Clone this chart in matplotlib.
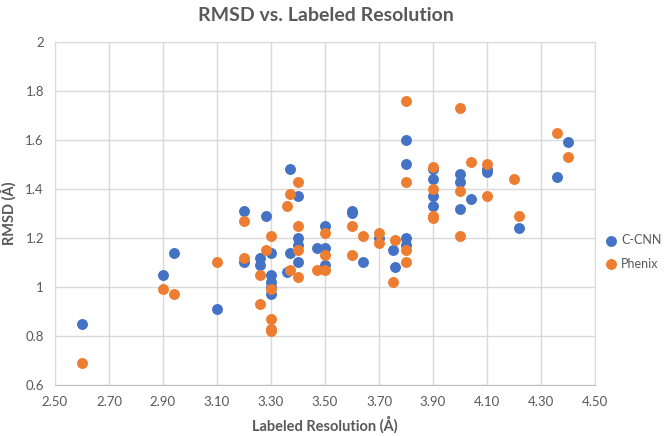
import matplotlib.pyplot as plt

# C-CNN values
cnn_res = [2.60, 2.90, 2.94, 3.10, 3.20, 3.20, 3.26, 3.26, 3.28, 3.30,
           3.30, 3.30, 3.30, 3.30, 3.36, 3.37, 3.37, 3.40, 3.40, 3.40,
           3.40, 3.47, 3.50, 3.50, 3.50, 3.60, 3.60, 3.64, 3.70, 3.75,
           3.76, 3.80, 3.80, 3.80, 3.80, 3.90, 3.90, 3.90, 3.90, 4.00,
           4.00, 4.00, 4.04, 4.10, 4.10, 4.22, 4.36, 4.40]
cnn_rmsd = [0.85, 1.05, 1.14, 0.91, 1.31, 1.10, 1.12, 1.09, 1.29, 1.14,
            1.05, 1.02, 1.00, 0.97, 1.06, 1.48, 1.14, 1.37, 1.20, 1.17,
            1.10, 1.16, 1.25, 1.16, 1.09, 1.31, 1.30, 1.10, 1.20, 1.15,
            1.08, 1.60, 1.50, 1.20, 1.17, 1.48, 1.44, 1.37, 1.33, 1.46,
            1.43, 1.32, 1.36, 1.48, 1.47, 1.24, 1.45, 1.59]

# Phenix values
phx_res = [2.60, 2.90, 2.94, 3.10, 3.20, 3.20, 3.26, 3.26, 3.28, 3.30,
           3.30, 3.30, 3.30, 3.30, 3.36, 3.37, 3.37, 3.40, 3.40, 3.40,
           3.40, 3.47, 3.50, 3.50, 3.50, 3.60, 3.60, 3.64, 3.70, 3.70,
           3.75, 3.76, 3.80, 3.80, 3.80, 3.80, 3.90, 3.90, 3.90, 3.90,
           4.00, 4.00, 4.00, 4.04, 4.10, 4.10, 4.20, 4.22, 4.36, 4.40]
phx_rmsd = [0.69, 0.99, 0.97, 1.10, 1.27, 1.12, 1.05, 0.93, 1.15, 1.21,
            0.99, 0.87, 0.83, 0.82, 1.33, 1.38, 1.07, 1.43, 1.25, 1.15,
            1.04, 1.07, 1.22, 1.13, 1.07, 1.25, 1.13, 1.21, 1.22, 1.18,
            1.02, 1.19, 1.76, 1.43, 1.15, 1.10, 1.49, 1.40, 1.29, 1.28,
            1.73, 1.39, 1.21, 1.51, 1.50, 1.37, 1.44, 1.29, 1.63, 1.53]

x_ticks = [2.5, 2.7, 2.9, 3.1, 3.3, 3.5, 3.7, 3.9, 4.1, 4.3, 4.5]
y_ticks = [0.6, 0.8, 1.0, 1.2, 1.4, 1.6, 1.8, 2.0]
y_labels = ['0.6', '0.8', '1', '1.2', '1.4', '1.6', '1.8', '2']

plt.rcParams['font.family'] = ['Lato', 'DejaVu Sans']
grey = '#595959'

fig = plt.figure(figsize=(6.66, 4.36), dpi=100)
ax = fig.add_axes([55 / 666, 1 - 385 / 436, 540 / 666, 343 / 436])

ax.scatter(cnn_res, cnn_rmsd, s=62, color='#4472C4', label='C-CNN', zorder=3, linewidths=0)
ax.scatter(phx_res, phx_rmsd, s=62, color='#ED7D31', label='Phenix', zorder=3, linewidths=0)

ax.set_xlim(2.5, 4.5)
ax.set_ylim(0.6, 2.0)
ax.set_xticks(x_ticks)
ax.set_xticklabels(['%.2f' % t for t in x_ticks])
ax.set_yticks(y_ticks)
ax.set_yticklabels(y_labels)
ax.grid(True, color='#D9D9D9', linewidth=1, zorder=0)
ax.set_axisbelow(True)
for side in ['top', 'right', 'left']:
    ax.spines[side].set_color('#D9D9D9')
ax.spines['bottom'].set_color('#BFBFBF')
ax.tick_params(length=0, labelsize=9.5, colors=grey, pad=8)

ax.set_xlabel('Labeled Resolution (Å)', fontsize=10.5, fontweight='bold', color=grey, labelpad=6)
ax.set_ylabel('RMSD (Å)', fontsize=10.5, fontweight='bold', color=grey, labelpad=6)
fig.text(0.49, 0.965, 'RMSD vs. Labeled Resolution', ha='center', va='center',
         fontsize=14, fontweight='bold', color=grey)

leg = fig.legend(loc='center left', bbox_to_anchor=(605 / 666, 1 - 252 / 436), frameon=False,
                 fontsize=9, handlelength=1.0, handletextpad=0.3, labelspacing=0.9,
                 borderpad=0, borderaxespad=0)
for t in leg.get_texts():
    t.set_color(grey)

fig.savefig('out.png', dpi=100)
